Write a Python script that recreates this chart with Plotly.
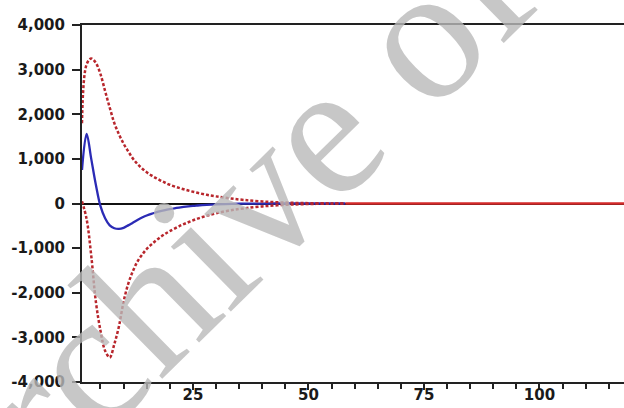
import plotly.graph_objects as go

# Impulse response (blue) with upper / lower bands (red dotted)
resp_x = [1, 2, 3, 4, 5, 6, 7, 8, 9, 10, 11, 12, 13, 14, 15, 16, 17, 18, 19, 20,
          21, 22, 23, 24, 25, 26, 27, 28, 29, 30, 32, 35, 40, 45, 50, 58]
resp_y = [750, 1560, 1000, 420, -60, -330, -490, -555, -570, -545, -490, -430, -370, -315, -270,
          -232, -200, -172, -148, -127, -108, -92, -78, -65, -54, -45, -37, -30, -24, -19,
          -12, -5, -1, 0, 0, 0]

band_x = [1, 2, 3, 4, 5, 6, 7, 8, 9, 10, 11, 12, 13, 14, 15, 16, 17, 18, 19, 20,
          22, 24, 26, 28, 30, 33, 36, 40, 45, 50, 55, 58]
upper_y = [1800, 3120, 3250, 3150, 2900, 2520, 2150, 1800, 1550, 1340, 1170, 1010, 885, 785, 700,
           630, 570, 515, 465, 420, 350, 290, 240, 195, 160, 115, 80, 45, 20, 8, 2, 0]
lower_y = [50, -350, -1170, -2200, -2850, -3300, -3450, -3150, -2750, -2200, -1800, -1520, -1300,
           -1150, -1020, -920, -830, -750, -680, -620, -510, -420, -340, -275, -220, -155, -110,
           -65, -30, -12, -3, 0]

tail_x = [58, 120]
tail_y = [0, 0]

y_ticks = [-4000, -3000, -2000, -1000, 0, 1000, 2000, 3000, 4000]
y_tick_labels = ["-4,000", "-3,000", "-2,000", "-1,000", "0", "1,000", "2,000", "3,000", "4,000"]
x_ticks = [25, 50, 75, 100]
x_tick_labels = ["25", "50", "75", "100"]

tick_font = dict(family="DejaVu Sans", size=15, color="#1a1a1a", weight="bold")

fig = go.Figure()
fig.add_trace(go.Scatter(x=resp_x, y=resp_y, mode="lines", line=dict(color="#2b2bb5", width=2.3),
                         line_shape="spline", showlegend=False))
fig.add_trace(go.Scatter(x=band_x, y=upper_y, mode="lines",
                         line=dict(color="#b8262c", width=2.5, dash="3px,2px"),
                         line_shape="spline", showlegend=False))
fig.add_trace(go.Scatter(x=band_x, y=lower_y, mode="lines",
                         line=dict(color="#b8262c", width=2.5, dash="3px,2px"),
                         line_shape="spline", showlegend=False))
fig.add_trace(go.Scatter(x=tail_x, y=tail_y, mode="lines", line=dict(color="#d42a2a", width=2.5),
                         showlegend=False))

fig.add_annotation(text="Archive of SID", xref="paper", yref="paper", x=0.459, y=0.728,
                   xanchor="center", yanchor="middle", textangle=-44.5, showarrow=False,
                   font=dict(family="Liberation Serif", size=192, weight="normal",
                             color="rgba(185,185,185,0.8)"))

fig.update_layout(
    width=624, height=408,
    margin=dict(l=82, r=0, t=25, b=26, autoexpand=False),
    paper_bgcolor="white", plot_bgcolor="white",
    font=dict(family="DejaVu Sans", size=15, color="#1a1a1a"),
)
fig.update_xaxes(range=[1, 118.3], tickvals=x_ticks, ticktext=x_tick_labels,
                 ticks="outside", ticklen=6, tickwidth=2, tickcolor="#222", ticklabelstandoff=-8,
                 minor=dict(dtick=5, tick0=0, ticks="outside", ticklen=5, tickwidth=2, tickcolor="#222"),
                 showline=True, linecolor="#222", linewidth=2, mirror=True,
                 showgrid=False, zeroline=False, automargin=False,
                 tickfont=tick_font)
fig.update_yaxes(range=[-4000, 4000], tickvals=y_ticks, ticktext=y_tick_labels,
                 ticks="outside", ticklen=8, tickwidth=2, tickcolor="#222", ticklabelstandoff=4,
                 showline=True, linecolor="#222", linewidth=2,
                 showgrid=False, zeroline=True, zerolinecolor="#111", zerolinewidth=2,
                 automargin=False, tickfont=tick_font)

fig.write_html("out.html", config={"displayModeBar": False},
               post_script="document.body.style.margin='0';document.body.style.overflow='hidden';")
